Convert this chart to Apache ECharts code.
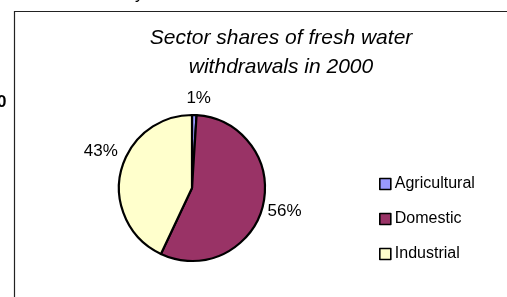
<!DOCTYPE html>
<html lang="en">

<head>
    <meta charset="UTF-8">
    <title>Sector shares of fresh water withdrawals in 2000</title>
    <script src="https://cdn.jsdelivr.net/npm/echarts@6/dist/echarts.min.js"></script>
    <style>
        html, body { margin: 0; padding: 0; background: #fff; }
        #chart { width: 507px; height: 297px; }
    </style>
</head>

<body>
    <div id="chart"></div>
    <script>
        // data
        var sectors = ['Agricultural', 'Domestic', 'Industrial']
        var shares = [1, 56, 43]  // percent of withdrawals
        var sectorColors = ['#9999FF', '#993366', '#FFFFCC']

        var font = "'Liberation Sans', Arial, sans-serif"
        var mCharts = echarts.init(document.getElementById('chart'))

        var pieData = sectors.map(function(name, i) {
            return { name: name, value: shares[i], itemStyle: { color: sectorColors[i] } }
        })

        // nudge labels to where Excel put them
        var labelShift = [{ dx: -13, dy: -13 }, { dx: -4, dy: 4 }, { dx: 6, dy: -20 }]

        var option = {
            animation: false,
            title: {
                text: 'Sector shares of fresh water\nwithdrawals in 2000',
                left: 281,
                top: 24,
                padding: 0,
                textAlign: 'center',
                textStyle: {
                    fontFamily: font,
                    fontStyle: 'italic',
                    fontWeight: 'normal',
                    fontSize: 21,
                    lineHeight: 29,
                    color: '#000'
                }
            },
            legend: {
                orient: 'vertical',
                left: 379,
                top: 176,
                padding: 0,
                itemWidth: 11,
                itemHeight: 11,
                itemGap: 19,
                icon: 'rect',
                data: sectors,
                itemStyle: { borderColor: '#000', borderWidth: 1.6 },
                textStyle: { fontFamily: font, fontSize: 16, color: '#000', padding: [0, 0, 0, -1] }
            },
            graphic: [{
                // chart frame
                type: 'rect',
                shape: { x: 14.5, y: 11.5, width: 600, height: 400 },
                style: { fill: 'none', stroke: '#222', lineWidth: 1.2 },
                silent: true
            }, {
                // bits of surrounding page text, cut off
                type: 'text',
                left: -3,
                top: 94,
                style: { text: '0', font: 'bold 17px ' + font, fill: '#000' }
            }, {
                type: 'text',
                left: 135,
                top: -14,
                style: { text: 'y', font: '17px ' + font, fill: '#000' }
            }],
            series: [{
                type: 'pie',
                center: [192, 188],
                radius: 73,
                startAngle: 90,
                clockwise: true,
                data: pieData,
                itemStyle: { borderColor: '#000', borderWidth: 2.2 },
                label: {
                    show: true,
                    position: 'outside',
                    formatter: '{c}%',
                    fontFamily: font,
                    fontSize: 17,
                    color: '#000'
                },
                labelLine: { show: false, length: 4, length2: 0 },
                labelLayout: function(params) {
                    return labelShift[params.dataIndex]
                },
                emphasis: { disabled: true }
            }]
        }
        mCharts.setOption(option)
    </script>
</body>

</html>
